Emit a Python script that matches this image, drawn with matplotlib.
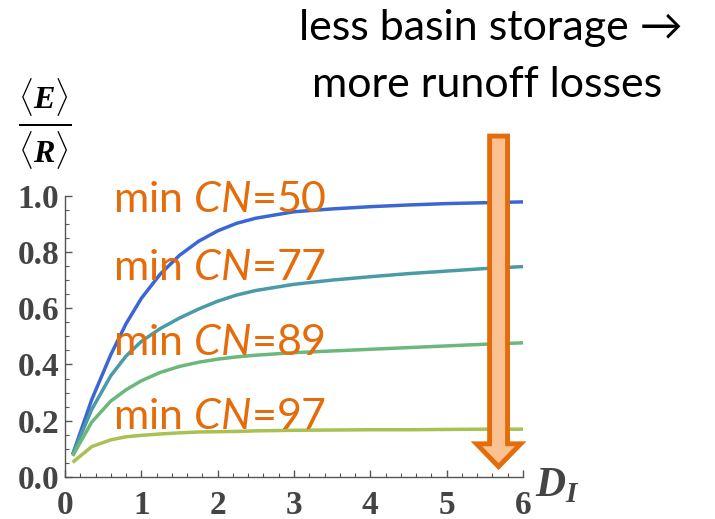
import matplotlib
matplotlib.use("Agg")
import matplotlib.pyplot as plt
import matplotlib.patches as mpatches
from matplotlib.ticker import MultipleLocator

plt.rcParams['mathtext.fontset'] = 'custom'
plt.rcParams['mathtext.it'] = 'Lato:italic'
plt.rcParams['mathtext.rm'] = 'Lato'
plt.rcParams['mathtext.bf'] = 'Liberation Serif:bold:italic'

# ---- data ----
x_vals = [0.1, 0.35, 0.6, 0.8, 1.0, 1.25, 1.5, 1.75, 2.0, 2.25, 2.5, 3.0, 3.5, 4.0, 4.5, 5.0, 5.5, 6.0]
cn50 = [0.08, 0.275, 0.435, 0.545, 0.635, 0.722, 0.788, 0.838, 0.875, 0.902, 0.92, 0.943, 0.953, 0.961, 0.967, 0.972, 0.975, 0.978]
cn77 = [0.08, 0.24, 0.36, 0.43, 0.482, 0.528, 0.565, 0.597, 0.625, 0.647, 0.663, 0.685, 0.70, 0.712, 0.723, 0.732, 0.741, 0.748]
cn89 = [0.075, 0.195, 0.27, 0.31, 0.342, 0.372, 0.393, 0.408, 0.419, 0.427, 0.433, 0.442, 0.448, 0.454, 0.46, 0.466, 0.472, 0.477]
cn97 = [0.052, 0.108, 0.132, 0.143, 0.148, 0.153, 0.157, 0.16, 0.161, 0.162, 0.164, 0.166, 0.167, 0.168, 0.168, 0.169, 0.17, 0.17]
series = [cn50, cn77, cn89, cn97]
cn_labels = ["50", "77", "89", "97"]
label_y = [0.943, 0.70, 0.434, 0.17]
colors = ["#3b66d3", "#4b9aa8", "#6cb77b", "#a8c152"]

x_ticks = [0, 1, 2, 3, 4, 5, 6]
y_ticks = [0.0, 0.2, 0.4, 0.6, 0.8, 1.0]

fig = plt.figure(figsize=(7.15, 5.19), dpi=100)
ax = fig.add_axes([65/715, 1-477/519, (523-65)/715, (477-195.7)/519])

for ys, c in zip(series, colors):
    ax.plot(x_vals, ys, color=c, lw=2.5, solid_capstyle='butt', solid_joinstyle='round',
            clip_on=False, zorder=3)

orange = "#e46c0a"
for lab, yy in zip(cn_labels, label_y):
    ax.text(0.63, yy, r"min $\mathit{CN}$=" + lab, fontsize=31, color=orange,
            family="Lato", ha="left", va="baseline", zorder=4)

ax.set_xlim(0, 6)
ax.set_ylim(0, 1.0)
ax.set_xticks(x_ticks)
ax.set_yticks(y_ticks)
ax.set_xticklabels([str(v) for v in x_ticks])
ax.set_yticklabels([f"{v:.1f}" for v in y_ticks])
ax.xaxis.set_minor_locator(MultipleLocator(0.2))
ax.yaxis.set_minor_locator(MultipleLocator(0.05))
for s in ["top", "right"]:
    ax.spines[s].set_visible(False)
for s in ["left", "bottom"]:
    ax.spines[s].set_color("#555555")
    ax.spines[s].set_linewidth(1.0)
ax.tick_params(which="both", direction="in", color="#555555")
ax.tick_params(which="major", length=5, width=1.0)
ax.tick_params(which="minor", length=3, width=0.8)
ax.tick_params(axis="y", pad=4)
ax.tick_params(axis="x", pad=9)
for t in ax.get_xticklabels() + ax.get_yticklabels():
    t.set_family("Liberation Serif")
    t.set_weight("bold")
    t.set_fontsize(24)
    t.set_color("#444444")

# arrow
arr = mpatches.FancyArrow(5.68, 1.212, 0, -1.175, width=0.235, head_width=0.58,
                          head_length=0.081, length_includes_head=True,
                          facecolor="#fbc190", edgecolor=orange, lw=3.5,
                          clip_on=False, zorder=5)
ax.add_patch(arr)

# axis labels
fig.text(535/715, 1-484/519, r"$\mathbf{D}_{\mathbf{I}}$", fontsize=30, color="#444444",
         ha="left", va="center")
fig.text(45/715, 1-124/519, r"$\frac{\langle\mathbf{E}\rangle}{\langle\mathbf{R}\rangle}$",
         fontsize=33, color="black", ha="center", va="center")

fig.text(491/715, 1-40/519, "less basin storage \u2192", fontsize=31, family="Lato",
         color="black", ha="center", va="baseline")
fig.text(487/715, 1-97/519, "more runoff losses", fontsize=31, family="Lato",
         color="black", ha="center", va="baseline")

fig.savefig("out.png", dpi=100)
